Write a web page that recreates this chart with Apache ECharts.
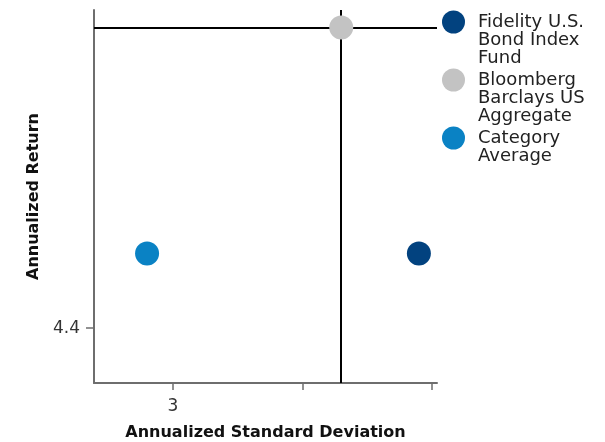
<!DOCTYPE html>
<html>
<head>
<meta charset="utf-8">
<script src="https://cdn.jsdelivr.net/npm/echarts@6/dist/echarts.min.js"></script>
<style>
  html, body { margin: 0; padding: 0; background: #fff; }
  #chart { width: 605px; height: 442px; }
</style>
</head>
<body>
<div id="chart"></div>
<script>
// Risk / return of the fund, its benchmark and the category average
const seriesNames = ['Fidelity U.S. Bond Index Fund', 'Bloomberg Barclays US Aggregate', 'Category Average'];
const legendLines = [['Fidelity U.S.', 'Bond Index', 'Fund'], ['Bloomberg', 'Barclays US', 'Aggregate'], ['Category', 'Average']];
const stdDev = [3.38, 3.26, 2.96];        // annualized standard deviation
const annReturn = [4.468, 4.674, 4.468];  // annualized return
const xTicks = [3, 3.2, 3.4];
const xLabels = [3];
const yTicks = [4.4];
const benchmarkIndex = 1;

const colors = ['#02427f', '#c3c3c3', '#0a82c4'];
const FONT = 'DejaVu Sans';
const LINE_H = 18;
const legendIconCenters = [22, 80, 138];

// One legend per entry so the marker sits beside the first text line
const legends = seriesNames.map((name, i) => {
  const lines = legendLines[i];
  const padded = Array(lines.length - 1).fill('').concat(lines);
  return {
    data: [name],
    orient: 'vertical',
    left: 442,
    top: legendIconCenters[i] - (padded.length * LINE_H) / 2,
    padding: 0,
    icon: 'circle',
    itemWidth: 39,
    itemHeight: 23,
    formatter: () => padded.join('\n'),
    textStyle: { fontFamily: FONT, fontSize: 18, lineHeight: LINE_H, color: '#222' }
  };
});

const series = seriesNames.map((name, i) => {
  const s = {
    name: name,
    type: 'scatter',
    z: 3,
    symbol: 'circle',
    symbolSize: 24,
    itemStyle: { color: colors[i], opacity: 1 },
    data: [[stdDev[i], annReturn[i]]]
  };
  if (i === benchmarkIndex) {
    // crosshair through the benchmark point
    s.markLine = {
      z: 1,
      silent: true,
      precision: 4,
      symbol: 'none',
      label: { show: false },
      lineStyle: { color: '#000', width: 2, type: 'solid' },
      data: [{ xAxis: stdDev[i] }, { yAxis: annReturn[i] }]
    };
  }
  return s;
});

const chart = echarts.init(document.getElementById('chart'));
chart.setOption({
  animation: false,
  color: colors,
  grid: { left: 94, right: 168, top: 10, bottom: 59, containLabel: false, outerBoundsMode: 'none' },
  legend: legends,
  xAxis: {
    type: 'value',
    min: 2.878,
    max: 3.408,
    name: 'Annualized Standard Deviation',
    nameLocation: 'middle',
    nameGap: 42,
    nameTextStyle: { fontFamily: FONT, fontSize: 16, fontWeight: 'bold', color: '#111' },
    axisLine: { show: true, lineStyle: { color: '#6e6e6e', width: 2 } },
    axisTick: { show: true, length: 7, customValues: xTicks, lineStyle: { color: '#6e6e6e', width: 1.5 } },
    axisLabel: {
      customValues: xLabels, margin: 15,
      fontFamily: FONT, fontSize: 17, color: '#333'
    },
    splitLine: { show: false }
  },
  yAxis: {
    type: 'value',
    min: 4.35,
    max: 4.69,
    name: 'Annualized Return',
    nameLocation: 'middle',
    nameGap: 52,
    nameTextStyle: { fontFamily: FONT, fontSize: 16, fontWeight: 'bold', color: '#111' },
    axisLine: { show: true, lineStyle: { color: '#6e6e6e', width: 2 } },
    axisTick: { show: true, length: 8, customValues: yTicks, lineStyle: { color: '#6e6e6e', width: 1.5 } },
    axisLabel: {
      customValues: yTicks, margin: 14,
      fontFamily: FONT, fontSize: 17, color: '#333'
    },
    splitLine: { show: false }
  },
  series: series
});
</script>
</body>
</html>
